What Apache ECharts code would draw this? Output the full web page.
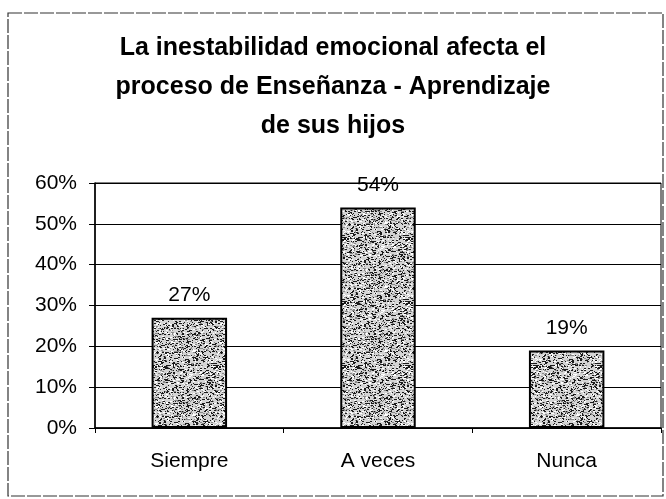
<!DOCTYPE html>
<html>
<head>
<meta charset="utf-8">
<title>Inestabilidad emocional</title>
<script src="https://cdn.jsdelivr.net/npm/echarts@6/dist/echarts.min.js"></script>
<style>
  html, body { margin: 0; padding: 0; background: #fff; }
  #chart { width: 666px; height: 499px; }
</style>
</head>
<body>
<div id="chart"></div>
<script>
// datos del grafico
var categorias = ['Siempre', 'A veces', 'Nunca'];
var porcentajes = [27, 54, 19];
var titulo = 'La inestabilidad emocional afecta el\nproceso de Enseñanza - Aprendizaje\nde sus hijos';

// textura gris moteada para las barras (patron fijo, no son datos)
function textura() {
    var c = document.createElement('canvas');
    c.width = 64; c.height = 64;
    var ctx = c.getContext('2d');
    ctx.fillStyle = '#d4d4d4';
    ctx.fillRect(0, 0, 64, 64);
    var s = 12345;
    function sig() {
        s = (s * 1664525 + 1013904223) >>> 0;
        return s >>> 16;
    }
    for (var i = 0; i < 1500; i++) {
        var x = sig() % 64;
        var y = sig() % 64;
        var k = sig() % 4;
        ctx.fillStyle = k === 0 ? '#fff' : (k === 1 ? '#888' : '#1a1a1a');
        ctx.fillRect(x, y, 1 + (sig() % 2), 1);
    }
    return c;
}

var chart = echarts.init(document.getElementById('chart'));
chart.setOption({
    animation: false,
    textStyle: { fontFamily: 'Liberation Sans, Arial, sans-serif' },
    title: {
        text: titulo,
        left: 'center',
        top: 24,
        textStyle: { fontSize: 25, fontWeight: 'bold', color: '#000', lineHeight: 39 }
    },
    graphic: [{
        type: 'rect',
        shape: { x: 8, y: 13, width: 655, height: 483 },
        style: { fill: 'none', stroke: '#333', lineWidth: 1.2, lineDash: [14, 2] },
        silent: true
    }],
    grid: {
        left: 95, right: 5, top: 183, bottom: 71,
        show: true, borderColor: '#000', borderWidth: 1
    },
    xAxis: {
        type: 'category',
        data: categorias,
        axisLine: { lineStyle: { color: '#000', width: 1.5 } },
        axisTick: { show: true, length: 5, lineStyle: { color: '#000' } },
        axisLabel: { color: '#000', fontSize: 21, margin: 23 }
    },
    yAxis: {
        type: 'value',
        min: 0, max: 60, interval: 10,
        axisLine: { show: true, lineStyle: { color: '#000', width: 1.5 } },
        axisTick: { show: true, length: 6, lineStyle: { color: '#000' } },
        axisLabel: { color: '#000', fontSize: 21, margin: 18, formatter: '{value}%' },
        splitLine: { lineStyle: { color: '#000', width: 1.2 } }
    },
    series: [{
        type: 'bar',
        data: porcentajes,
        barWidth: '40%',
        itemStyle: {
            color: { image: textura(), repeat: 'repeat' },
            borderColor: '#000',
            borderWidth: 2
        },
        label: {
            show: true,
            position: 'top',
            distance: 12,
            color: '#000',
            fontSize: 21,
            formatter: '{c}%'
        }
    }]
});
</script>
</body>
</html>
